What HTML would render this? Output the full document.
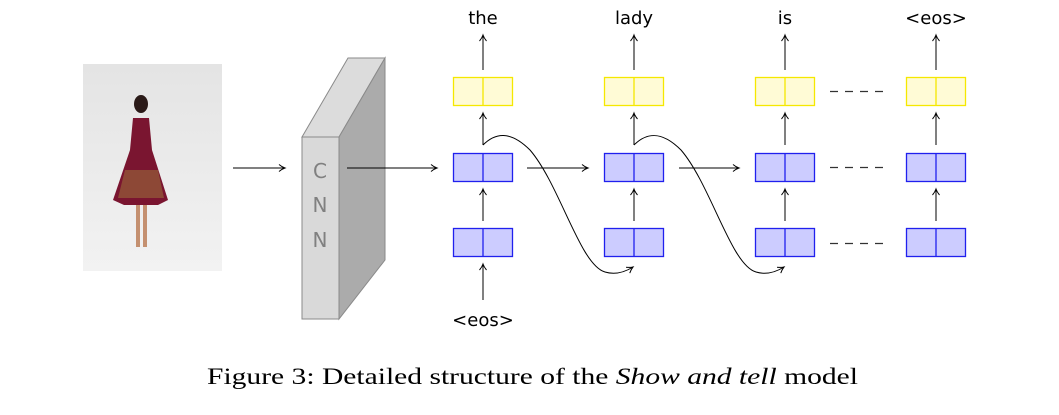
<!DOCTYPE html>
<html><head><meta charset="utf-8"><style>
html,body{margin:0;padding:0;background:#fff;}
svg{display:block}
</style></head><body>
<svg width="1059" height="415" viewBox="0 0 1059 415" xmlns="http://www.w3.org/2000/svg">
<defs>
<marker id="a" markerWidth="10" markerHeight="10" refX="7" refY="4" orient="auto" markerUnits="userSpaceOnUse">
<path d="M1,0.5 Q4,3 7,4 Q4,5 1,7.5" fill="none" stroke="#000" stroke-width="1"/>
</marker>
<linearGradient id="bg" x1="0" y1="0" x2="0" y2="1"><stop offset="0" stop-color="#e4e4e4"/><stop offset="1" stop-color="#f2f2f2"/></linearGradient>
</defs>
<rect x="83" y="64" width="139" height="207" fill="url(#bg)"/>
<ellipse cx="141" cy="104" rx="7" ry="9" fill="#2a1a18"/>
<path d="M133,118 L149,118 L152,150 L168,200 L158,205 L124,205 L113,200 L130,150 Z" fill="#7a1530"/>
<path d="M125,170 L158,170 L164,198 L118,198 Z" fill="#9a6a3a" opacity="0.6"/>
<rect x="136" y="205" width="4" height="42" fill="#c49070"/><rect x="143" y="205" width="4" height="42" fill="#c49070"/>
<polygon points="302,137 348,58 385,58 339,137" fill="#dcdcdc" stroke="#8a8a8a" stroke-width="1"/>
<polygon points="339,137 385,58 385,260 339,319" fill="#ababab" stroke="#8a8a8a" stroke-width="1"/>
<rect x="302" y="137" width="37" height="182" fill="#d9d9d9" stroke="#8a8a8a" stroke-width="1"/>
<g font-family="DejaVu Sans, sans-serif" font-size="20" fill="#808080" text-anchor="middle">
<text x="320" y="178">C</text><text x="320" y="212">N</text><text x="320" y="247">N</text></g>
<g stroke="#000" stroke-width="1" fill="none" marker-end="url(#a)">
<line x1="233" y1="168" x2="285" y2="168"/>
<line x1="347" y1="168" x2="437" y2="168"/>
<line x1="527" y1="168" x2="588" y2="168"/>
<line x1="679" y1="168" x2="739" y2="168"/>
</g>
<g stroke-width="1.3">
<rect x="453.5" y="77.5" width="59" height="28" fill="#fffbd6" stroke="#f5e800"/><line x1="483" y1="77" x2="483" y2="106" stroke="#f5e800"/>
<rect x="453.5" y="153.5" width="59" height="28" fill="#ccccff" stroke="#2020ee"/><line x1="483" y1="153" x2="483" y2="182" stroke="#2020ee"/>
<rect x="453.5" y="228.5" width="59" height="28" fill="#ccccff" stroke="#2020ee"/><line x1="483" y1="228" x2="483" y2="257" stroke="#2020ee"/>
<rect x="604.5" y="77.5" width="59" height="28" fill="#fffbd6" stroke="#f5e800"/><line x1="634" y1="77" x2="634" y2="106" stroke="#f5e800"/>
<rect x="604.5" y="153.5" width="59" height="28" fill="#ccccff" stroke="#2020ee"/><line x1="634" y1="153" x2="634" y2="182" stroke="#2020ee"/>
<rect x="604.5" y="228.5" width="59" height="28" fill="#ccccff" stroke="#2020ee"/><line x1="634" y1="228" x2="634" y2="257" stroke="#2020ee"/>
<rect x="755.5" y="77.5" width="59" height="28" fill="#fffbd6" stroke="#f5e800"/><line x1="785" y1="77" x2="785" y2="106" stroke="#f5e800"/>
<rect x="755.5" y="153.5" width="59" height="28" fill="#ccccff" stroke="#2020ee"/><line x1="785" y1="153" x2="785" y2="182" stroke="#2020ee"/>
<rect x="755.5" y="228.5" width="59" height="28" fill="#ccccff" stroke="#2020ee"/><line x1="785" y1="228" x2="785" y2="257" stroke="#2020ee"/>
<rect x="906.5" y="77.5" width="59" height="28" fill="#fffbd6" stroke="#f5e800"/><line x1="936" y1="77" x2="936" y2="106" stroke="#f5e800"/>
<rect x="906.5" y="153.5" width="59" height="28" fill="#ccccff" stroke="#2020ee"/><line x1="936" y1="153" x2="936" y2="182" stroke="#2020ee"/>
<rect x="906.5" y="228.5" width="59" height="28" fill="#ccccff" stroke="#2020ee"/><line x1="936" y1="228" x2="936" y2="257" stroke="#2020ee"/>
</g>
<g stroke="#000" stroke-width="1" fill="none" marker-end="url(#a)">
<line x1="483" y1="70" x2="483" y2="35"/><line x1="634" y1="70" x2="634" y2="35"/><line x1="785" y1="70" x2="785" y2="35"/><line x1="936" y1="70" x2="936" y2="35"/>
<line x1="483" y1="145" x2="483" y2="113"/><line x1="634" y1="145" x2="634" y2="113"/><line x1="785" y1="145" x2="785" y2="113"/><line x1="936" y1="145" x2="936" y2="113"/>
<line x1="483" y1="221" x2="483" y2="189"/><line x1="634" y1="221" x2="634" y2="189"/><line x1="785" y1="221" x2="785" y2="189"/><line x1="936" y1="221" x2="936" y2="189"/>
<line x1="483" y1="300" x2="483" y2="264"/>
<path d="M483,145 C495,133 510,130 530,150 C560,185 580,265 605,272 C615,275 625,272 633,267"/>
<path d="M634,145 C646,133 661,130 681,150 C711,185 731,265 756,272 C766,275 776,272 784,267"/>
</g>
<g stroke="#333" stroke-width="1.2" stroke-dasharray="8,7">
<line x1="830" y1="91.5" x2="888" y2="91.5"/><line x1="830" y1="167.5" x2="888" y2="167.5"/><line x1="830" y1="243.5" x2="888" y2="243.5"/>
</g>
<g font-family="DejaVu Sans, sans-serif" font-size="18" fill="#000" text-anchor="middle">
<text x="483" y="24">the</text><text x="634" y="24">lady</text><text x="785" y="24">is</text><text x="936" y="24">&lt;eos&gt;</text>
<text x="483" y="326">&lt;eos&gt;</text>
</g>
<text x="207" y="384" font-family="Liberation Serif, serif" font-size="23" textLength="651" lengthAdjust="spacingAndGlyphs">Figure 3: Detailed structure of the <tspan font-style="italic">Show and tell</tspan> model</text>
</svg>
</body></html>
